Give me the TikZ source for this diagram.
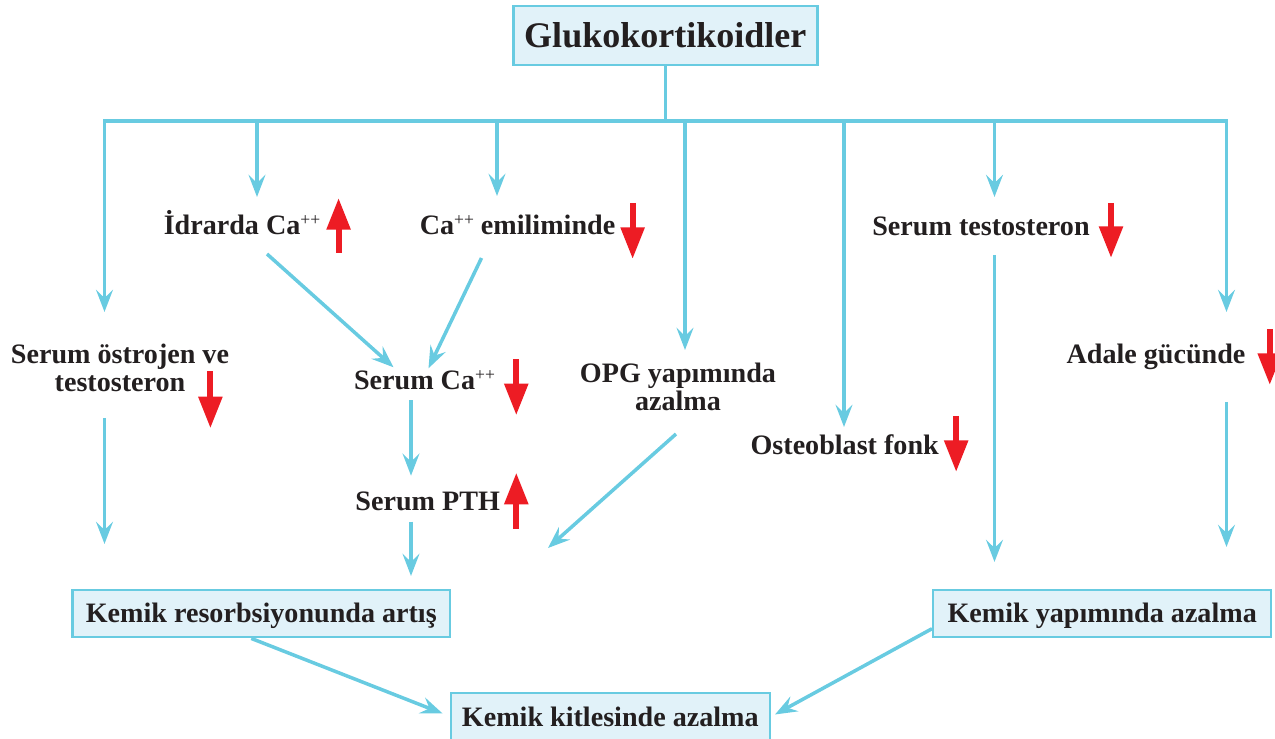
\documentclass[tikz,border=0pt]{standalone}
\usepackage{fontspec}
\setmainfont{Liberation Serif}
\usepackage{tikz}
\usetikzlibrary{calc}
\usetikzlibrary{arrows.meta}
\definecolor{flowcyan}{RGB}{104,203,225}
\definecolor{boxfill}{RGB}{225,242,249}
\definecolor{textdark}{RGB}{35,31,32}
\definecolor{red}{RGB}{237,28,36}
\newcommand{\plusup}{\raisebox{0.33em}{\mdseries\fontsize{10}{10}\selectfont ++}}
\tikzset{
    cyanline/.style={
        line width=2pt,
        flowcyan,
        line cap=rect
    },
    cyanarrow/.style={
        line width=2pt,
        flowcyan,
        ->,
        >={Stealth[length=12.5pt, width=9.5pt, inset=4.5pt]}
    },
    redarrow/.style={
        line width=3.4pt,
        red,
        ->,
        >={Triangle[length=18pt, width=13pt]}
    },
    lbl/.style={
        font=\fontsize{16}{16}\selectfont\bfseries,
        text=textdark,
        align=center,
        inner sep=0pt
    },
    box/.style={
        lbl,
        draw=flowcyan,
        line width=1.4pt,
        fill=boxfill,
        text height=13pt,
        text depth=2.8pt
    }
}

\begin{document}
\begin{tikzpicture}[x=0.02cm,y=-0.02cm]
   \useasboundingbox (0,0) rectangle (1275,739);
   % boxes
   \node[box, font=\fontsize{20.5}{24}\selectfont\bfseries, text height=14pt, text depth=0pt,
         minimum width=6.08cm, minimum height=1.18cm] (glu) at (665.3,35.5) {Glukokortikoidler};
   \node[box, minimum width=7.56cm, minimum height=0.94cm] (resorb) at (261.3,613.7) {Kemik resorbsiyonunda artış};
   \node[box, minimum width=6.76cm, minimum height=0.94cm] (yapim) at (1102.2,613.7) {Kemik yapımında azalma};
   \node[box, minimum width=6.38cm, minimum height=0.98cm] (kitle) at (610.3,717.5) {Kemik kitlesinde azalma};

   % labels
   \node[lbl] (ostro) at (120,368) {Serum östrojen ve\\testosteron};
   \node[lbl, anchor=base] (idrar) at (242,235) {İdrarda Ca\plusup};
   \node[lbl, anchor=base] (emil) at (517.5,235) {Ca\plusup\ emiliminde};
   \node[lbl] (opg) at (678,387) {OPG yapımında\\azalma};
   \node[lbl, anchor=base] (osteo) at (844.7,455) {Osteoblast fonk};
   \node[lbl, anchor=base] (testo) at (981,236) {Serum testosteron};
   \node[lbl, anchor=base] (adale) at (1156,364) {Adale gücünde};
   \node[lbl, anchor=base] (serumca) at (424.5,389.3) {Serum Ca\plusup};
   \node[lbl, anchor=base] (pth) at (427.7,510.7) {Serum PTH};

   % bus
   \coordinate (b1) at (104.5,121);
   \coordinate (b2) at (257,121);
   \coordinate (b3) at (497,121);
   \coordinate (b4) at (685,121);
   \coordinate (b5) at (844,121);
   \coordinate (b6) at (994.5,121);
   \coordinate (b7) at (1226.5,121);
   \coordinate (col) at (411,0);
   \draw[cyanline] (glu.south) -- (glu.south |- b1);
   \draw[cyanline] (b1) -- (b7);
   \draw[cyanarrow] (b1) -- ($(b1 |- ostro.center)+(0,-56)$);
   \draw[cyanarrow] (b2) -- ($(b2 |- idrar.base)+(0,-38)$);
   \draw[cyanarrow] (b3) -- ($(b3 |- emil.base)+(0,-39)$);
   \draw[cyanarrow] (b4) -- ($(b4 |- opg.center)+(0,-37)$);
   \draw[cyanarrow] (b5) -- ($(b5 |- osteo.base)+(0,-28)$);
   \draw[cyanarrow] (b6) -- ($(b6 |- testo.base)+(0,-39)$);
   \draw[cyanarrow] (b7) -- ($(b7 |- adale.base)+(0,-52)$);

   % second level
   \draw[cyanarrow] ($(idrar.base)+(25,19)$) -- ($(serumca.base)+(-31,-22)$);
   \draw[cyanarrow] ($(emil.base)+(-36,23)$) -- ($(serumca.base)+(4,-21)$);
   \draw[cyanarrow] ($(col |- serumca.base)+(0,11)$) -- ($(col |- pth.base)+(0,-35)$);
   \draw[cyanarrow] ($(col |- pth.base)+(0,11)$) -- ($(col |- resorb.north)+(0,-13)$);
   \draw[cyanarrow] ($(b1 |- ostro.center)+(0,50)$) -- ($(b1 |- resorb.north)+(0,-45)$);
   \draw[cyanarrow] ($(opg.center)+(-2,47)$) -- ($(opg.center)+(-130,161)$);
   \draw[cyanarrow] ($(b6 |- testo.base)+(0,19)$) -- ($(b6 |- yapim.north)+(0,-27)$);
   \draw[cyanarrow] ($(b7 |- adale.base)+(0,38)$) -- ($(b7 |- yapim.north)+(0,-42)$);
   \draw[cyanarrow] ($(resorb.south)+(-10,0)$) -- ($(kitle.west)+(-7,-4)$);
   \draw[cyanarrow] ($(yapim.west)+(0,15)$) -- ($(kitle.east)+(4,-3)$);

   % up / down marks
   \draw[redarrow] ($(ostro.south east)+(-19,-21)$) -- ++(0,57);
   \draw[redarrow] ($(idrar.base east)+(18,18)$) -- ++(0,-55);
   \draw[redarrow] ($(emil.base east)+(17,-32)$) -- ++(0,56);
   \draw[redarrow] ($(serumca.base east)+(21,-30)$) -- ++(0,56);
   \draw[redarrow] ($(pth.base east)+(16,18)$) -- ++(0,-56);
   \draw[redarrow] ($(osteo.base east)+(17,-39)$) -- ++(0,56);
   \draw[redarrow] ($(testo.base east)+(21,-33)$) -- ++(0,55);
   \draw[redarrow] ($(adale.base east)+(24,-35)$) -- ++(0,56);
  \end{tikzpicture}
\end{document}
